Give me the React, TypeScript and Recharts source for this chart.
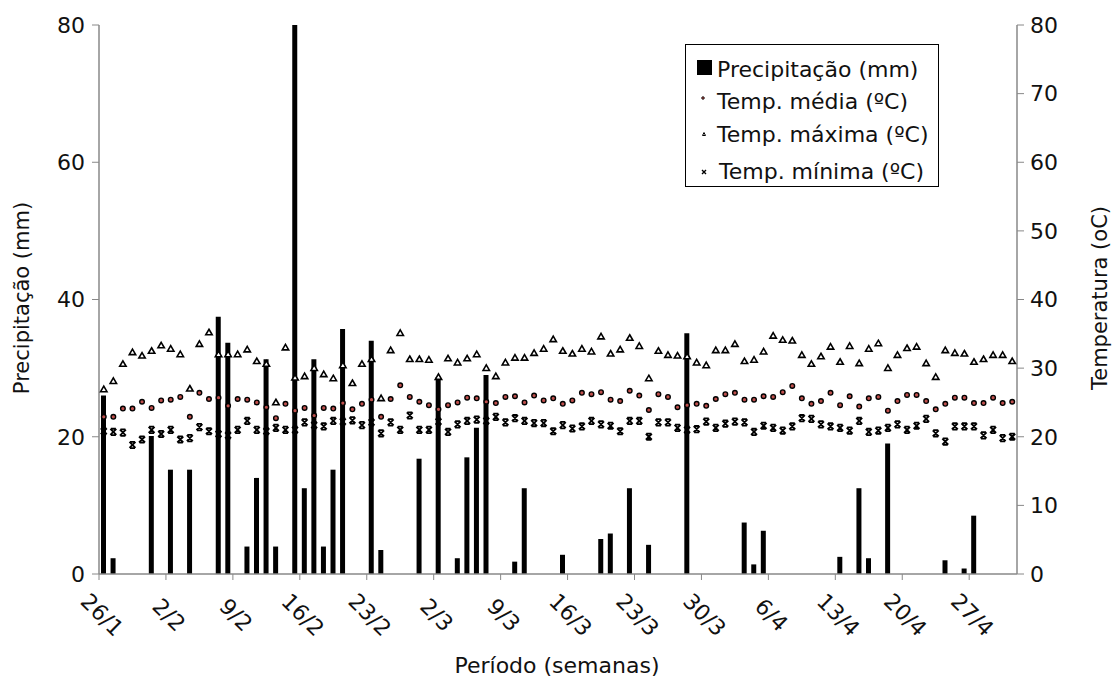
import React from 'react';
import { ComposedChart, Bar, Scatter, XAxis, YAxis } from 'recharts';

const weekLabels = ['26/1', '2/2', '9/2', '16/2', '23/2', '2/3', '9/3', '16/3', '23/3', '30/3', '6/4', '13/4', '20/4', '27/4'];
const leftTicks = [0, 20, 40, 60, 80];
const rightTicks = [0, 10, 20, 30, 40, 50, 60, 70, 80];

const precipitation = [
  26, 2.3, 0, 0, 0, 20.1, 0, 15.2, 0, 15.2,
  0, 0, 37.5, 33.7, 0, 4, 14, 31.3, 4, 0,
  80, 12.5, 31.3, 4, 15.2, 35.7, 0, 0, 34, 3.5,
  0, 0, 0, 16.8, 0, 28.7, 0, 2.3, 17, 21.3,
  29, 0, 0, 1.8, 12.5, 0, 0, 0, 2.8, 0,
  0, 0, 5.1, 5.9, 0, 12.5, 0, 4.25, 0, 0,
  0, 35.1, 0, 0, 0, 0, 0, 7.5, 1.4, 6.3,
  0, 0, 0, 0, 0, 0, 0, 2.5, 0, 12.5,
  2.3, 0, 19, 0, 0, 0, 0, 0, 2, 0,
  0.8, 8.5, 0, 0, 0, 0,
];

const tempMean = [
  22.9, 22.9, 24.1, 24.1, 25.1, 24.2, 25.3, 25.4, 25.8, 22.9,
  26.4, 25.5, 25.7, 24.5, 25.5, 25.4, 25.0, 24.3, 22.7, 24.8,
  23.8, 24.2, 23.1, 24.2, 24.1, 24.9, 24.0, 24.8, 25.4, 22.9,
  25.5, 27.5, 25.8, 25.1, 24.6, 24.0, 24.6, 25.0, 25.7, 25.6,
  25.1, 24.9, 25.8, 25.9, 25.0, 26.0, 25.3, 25.6, 24.8, 25.3,
  26.4, 26.2, 26.5, 25.4, 25.2, 26.7, 26.0, 23.9, 26.2, 25.8,
  24.3, 24.6, 24.8, 24.5, 25.5, 26.2, 26.4, 25.4, 25.4, 25.9,
  25.8, 26.5, 27.4, 25.6, 24.8, 25.2, 26.4, 24.6, 25.9, 24.4,
  25.6, 25.8, 23.8, 25.2, 26.1, 26.1, 25.2, 24.0, 24.8, 25.7,
  25.7, 24.9, 24.9, 25.7, 24.9, 25.1,
];

const tempMax = [
  26.9, 28.1, 30.6, 32.3, 31.8, 32.5, 33.3, 32.8, 32.0, 27.0,
  33.5, 35.2, 32.0, 32.0, 32.0, 32.7, 31.0, 30.6, 25.0, 33.0,
  28.6, 28.8, 30.0, 29.1, 28.5, 30.4, 27.8, 30.6, 31.3, 25.6,
  32.6, 35.1, 31.3, 31.3, 31.2, 28.7, 31.4, 30.8, 31.4, 32.0,
  30.0, 28.8, 30.8, 31.5, 31.5, 32.2, 32.8, 34.2, 32.5, 32.1,
  32.8, 32.4, 34.6, 32.1, 32.7, 34.4, 33.2, 28.5, 32.5, 31.9,
  31.8, 31.7, 30.8, 30.4, 32.6, 32.6, 33.5, 31.0, 31.2, 32.4,
  34.7, 34.1, 34.0, 31.9, 30.6, 31.7, 33.1, 30.9, 33.2, 30.7,
  32.8, 33.6, 30.0, 31.9, 32.9, 33.1, 30.7, 28.7, 32.6, 32.2,
  32.1, 30.9, 31.3, 31.9, 31.9, 31.0,
];

const tempMin = [
  20.8, 20.7, 20.6, 18.8, 19.6, 21.0, 20.4, 21.0, 19.6, 19.8,
  21.4, 20.8, 20.4, 20.2, 21.0, 22.3, 21.0, 20.8, 21.3, 21.0,
  21.0, 22.1, 21.7, 21.5, 22.3, 22.2, 22.4, 21.7, 22.1, 20.5,
  22.1, 21.0, 23.1, 21.0, 21.0, 22.2, 20.7, 21.8, 22.3, 22.5,
  22.3, 22.9, 22.1, 22.7, 22.3, 22.0, 22.0, 20.8, 21.7, 21.2,
  21.5, 22.3, 21.8, 21.6, 20.8, 22.3, 22.3, 20.0, 22.1, 22.1,
  21.3, 21.0, 21.1, 22.2, 21.3, 21.9, 22.2, 22.1, 20.7, 21.6,
  21.3, 20.9, 21.5, 22.7, 22.6, 21.8, 21.5, 21.3, 20.9, 22.3,
  20.7, 20.9, 21.3, 21.8, 21.0, 21.6, 22.6, 20.5, 19.3, 21.5,
  21.5, 21.5, 20.2, 21.0, 19.8, 20.0,
];

const data = precipitation.map((p, i) => ({
  x: i + 0.5,
  prec: p,
  med: tempMean[i],
  max: tempMax[i],
  min: tempMin[i],
}));
const weekTicks = weekLabels.map((_, k) => k * 7);

const FONT = '"DejaVu Sans", sans-serif';
const AXIS = '#888888';
const TEXT = '#111111';

const XTick = (props: any) => {
  const { x, y, payload } = props;
  const label = weekLabels[Math.round(payload.value / 7)];
  const cx = x + 3;
  const cy = y + 33;
  return (
    <text x={cx} y={cy} transform={`rotate(45 ${cx} ${cy})`} textAnchor="middle" dominantBaseline="central"
      fontSize={22} fill={TEXT} fontFamily={FONT}>{label}</text>
  );
};

const MaxMarker = (p: any) => {
  const { cx, cy } = p;
  if (cx == null || cy == null) return null;
  return <path d={`M${cx},${cy - 3.2} L${cx + 3.2},${cy + 2.3} L${cx - 3.2},${cy + 2.3} Z`} fill="#fff" stroke="#000" strokeWidth={1.6} />;
};
const MeanMarker = (p: any) => {
  const { cx, cy } = p;
  if (cx == null || cy == null) return null;
  return <circle cx={cx} cy={cy} r={2.3} fill="#c0504d" stroke="#000" strokeWidth={1.4} />;
};
const MinMarker = (p: any) => {
  const { cx, cy } = p;
  if (cx == null || cy == null) return null;
  return (
    <path d={`M${cx - 3},${cy - 3} L${cx + 3},${cy + 3} M${cx + 3},${cy - 3} L${cx - 3},${cy + 3} M${cx - 2.5},${cy - 3.2} L${cx + 2.5},${cy - 3.2} M${cx - 2.5},${cy + 3.2} L${cx + 2.5},${cy + 3.2}`}
      stroke="#000" strokeWidth={1.8} fill="none" />
  );
};

const LeftTitle = () => (
  <text x={22} y={298} transform="rotate(-90 22 298)" textAnchor="middle" dominantBaseline="central" fontSize={21} fill={TEXT} fontFamily={FONT}>Precipitação (mm)</text>
);
const RightTitle = () => (
  <text x={1100} y={298} transform="rotate(-90 1100 298)" textAnchor="middle" dominantBaseline="central" fontSize={21} fill={TEXT} fontFamily={FONT}>Temperatura (oC)</text>
);
const BottomTitle = () => (
  <text x={557} y={665} textAnchor="middle" dominantBaseline="central" fontSize={22} fill={TEXT} fontFamily={FONT}>Período (semanas)</text>
);

const legendItems = ['Precipitação (mm)', 'Temp. média (ºC)', 'Temp. máxima (ºC)', 'Temp. mínima (ºC)'];

const LegendBox = () => (
  <svg width={1114} height={678} style={{ position: 'absolute', left: 0, top: 0, pointerEvents: 'none' }}>
    <rect x={685.5} y={44.5} width={253} height={142} fill="#fff" stroke="#000" strokeWidth={1} />
    <rect x={697} y={60} width={15} height={15} fill="#000" />
    <text x={717} y={76.5} fontSize={22} fill={TEXT} fontFamily={FONT}>{legendItems[0]}</text>
    <circle cx={703} cy={98} r={1.3} fill="#c0504d" stroke="#000" strokeWidth={0.8} />
    <text x={717} y={108.5} fontSize={22} fill={TEXT} fontFamily={FONT}>{legendItems[1]}</text>
    <path d="M704,132.5 L705.5,135.5 L702.5,135.5 Z" fill="#fff" stroke="#000" strokeWidth={1} />
    <text x={717} y={142} fontSize={22} fill={TEXT} fontFamily={FONT}>{legendItems[2]}</text>
    <path d="M702,170 L706,174 M706,170 L702,174" stroke="#000" strokeWidth={1.4} />
    <text x={719} y={178.5} fontSize={22} fill={TEXT} fontFamily={FONT}>{legendItems[3]}</text>
  </svg>
);

export default function App() {
  return (
    <div style={{ position: 'absolute', left: 0, top: 0, width: 1114, height: 678, background: '#fff' }}>
      <ComposedChart width={1114} height={678} data={data} margin={{ top: 25, right: 37, bottom: 44, left: 39 }}>
        <XAxis dataKey="x" type="number" domain={[0, 96]} ticks={weekTicks} interval={0} height={60}
          tick={<XTick />} tickSize={6} stroke={AXIS} tickLine={{ stroke: AXIS }} axisLine={{ stroke: AXIS, strokeWidth: 1.5 }}
          allowDataOverflow label={{ content: () => <BottomTitle /> }} />
        <YAxis yAxisId="left" domain={[0, 80]} ticks={leftTicks} width={60} tickSize={7} tickMargin={7}
          stroke={AXIS} tickLine={{ stroke: AXIS }} axisLine={{ stroke: AXIS, strokeWidth: 1.5 }}
          tick={{ fill: TEXT, fontSize: 22, fontFamily: FONT }} allowDataOverflow
          label={{ content: () => <LeftTitle /> }} />
        <YAxis yAxisId="right" orientation="right" domain={[0, 80]} ticks={rightTicks} width={60} tickSize={7} tickMargin={6}
          stroke={AXIS} tickLine={{ stroke: AXIS }} axisLine={{ stroke: AXIS, strokeWidth: 1.5 }}
          tick={{ fill: TEXT, fontSize: 22, fontFamily: FONT }} allowDataOverflow
          label={{ content: () => <RightTitle /> }} />
        <Bar yAxisId="left" dataKey="prec" fill="#000" barSize={5} isAnimationActive={false} />
        <Scatter yAxisId="right" dataKey="med" shape={(p: any) => <MeanMarker {...p} />} isAnimationActive={false} />
        <Scatter yAxisId="right" dataKey="max" shape={(p: any) => <MaxMarker {...p} />} isAnimationActive={false} />
        <Scatter yAxisId="right" dataKey="min" shape={(p: any) => <MinMarker {...p} />} isAnimationActive={false} />
      </ComposedChart>
      <LegendBox />
    </div>
  );
}
